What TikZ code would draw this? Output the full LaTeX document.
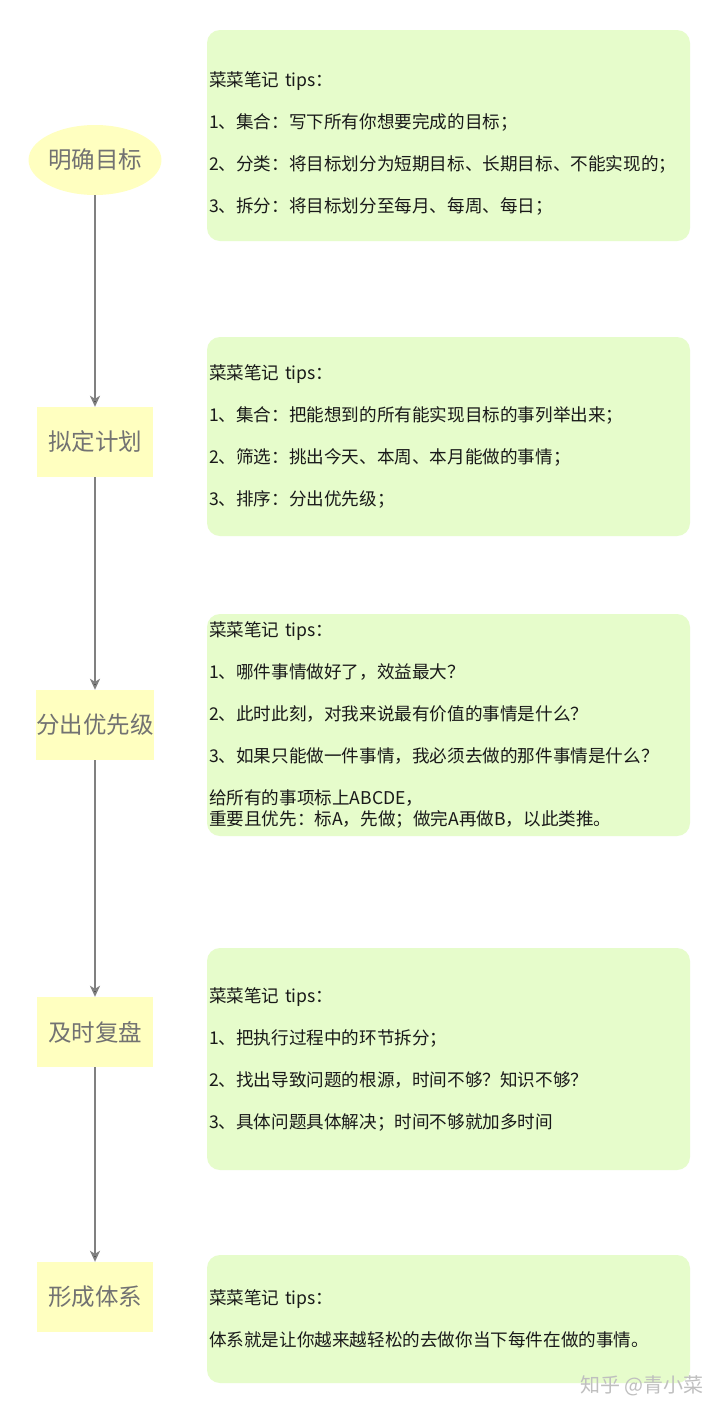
\documentclass[tikz,border=0pt]{standalone}
\usepackage{fontspec}
\setmainfont{Noto Sans CJK SC}
\usepackage{tikz}
\usetikzlibrary{positioning}
\usetikzlibrary{shapes.geometric}
\usetikzlibrary{arrows.meta}

\definecolor{tipgreen}{HTML}{E6FCCB}
\definecolor{stepyellow}{HTML}{FFFFC0}
\definecolor{stepgray}{HTML}{727272}
\definecolor{linegray}{HTML}{808080}

\begin{document}
\begin{tikzpicture}
      [x=1pt,y=-1pt,
       stage/.style={fill=stepyellow,draw=none,minimum width=116pt,minimum height=70pt,inner sep=0pt,
                     text=stepgray,font=\fontsize{23.5}{26}\selectfont},
       goal/.style={stage,ellipse,minimum width=130pt},
       tipbox/.style={fill=tipgreen,draw=none,rounded corners=13pt,text width=479pt,inner xsep=2pt,
                      align=left,font=\fontsize{17.6}{21}\selectfont,text=black!90},
       flow/.style={draw=linegray,line width=1.8pt,-{Stealth[length=11pt,width=10pt,inset=3pt]}}]
    \fill[white] (0,0) rectangle (720,1414);
    \useasboundingbox (0,0) rectangle (720,1414);

    \node[goal]   (G)  at (95,160)  {明确目标};
    \node[stage]  (P)  at (95,442)  {拟定计划};
    \node[stage]  (R)  at (95,725)  {分出优先级};
    \node[stage]  (V)  at (95,1032) {及时复盘};
    \node[stage]  (S)  at (95,1297) {形成体系};

    \node[tipbox,minimum height=211pt] (TG) at (448.5,135.5)
      {\rule{0pt}{31pt}菜菜笔记 tips：\\[21pt] 1、集合：写下所有你想要完成的目标；\\[21pt]
       2、分类：将目标划分为短期目标、长期目标、不能实现的；\\[21pt] 3、拆分：将目标划分至每月、每周、每日；};
    \node[tipbox,minimum height=199pt] (TP) at (448.5,436.5)
      {菜菜笔记 tips：\\[21pt] 1、集合：把能想到的所有能实现目标的事列举出来；\\[21pt]
       2、筛选：挑出今天、本周、本月能做的事情；\\[21pt] 3、排序：分出优先级；};
    \node[tipbox,minimum height=222pt] (TR) at (448.5,725)
      {菜菜笔记 tips：\\[21pt] 1、哪件事情做好了，效益最大？\\[21pt]
       2、此时此刻，对我来说最有价值的事情是什么？\\[21pt]
       3、如果只能做一件事情，我必须去做的那件事情是什么？\\[21pt]
       给所有的事项标上ABCDE，\\ 重要且优先：标A，先做；做完A再做B，以此类推。};
    \node[tipbox,minimum height=222pt] (TV) at (448.5,1059)
      {菜菜笔记 tips：\\[21pt] 1、把执行过程中的环节拆分；\\[21pt]
       2、找出导致问题的根源，时间不够？知识不够？\\[21pt] 3、具体问题具体解决；时间不够就加多时间};
    \node[tipbox,minimum height=128pt] (TS) at (448.5,1319)
      {菜菜笔记 tips：\\[21pt] 体系就是让你越来越轻松的去做你当下每件在做的事情。};

    \node[text=black!25,font=\fontsize{20}{22}\selectfont,anchor=east] (W) at (707,1386) {知乎 @青小菜};

    \path [flow] (G) edge (P)
          (P) edge (R)
          (R) edge (V)
          (V) edge (S);
\end{tikzpicture}
\end{document}
